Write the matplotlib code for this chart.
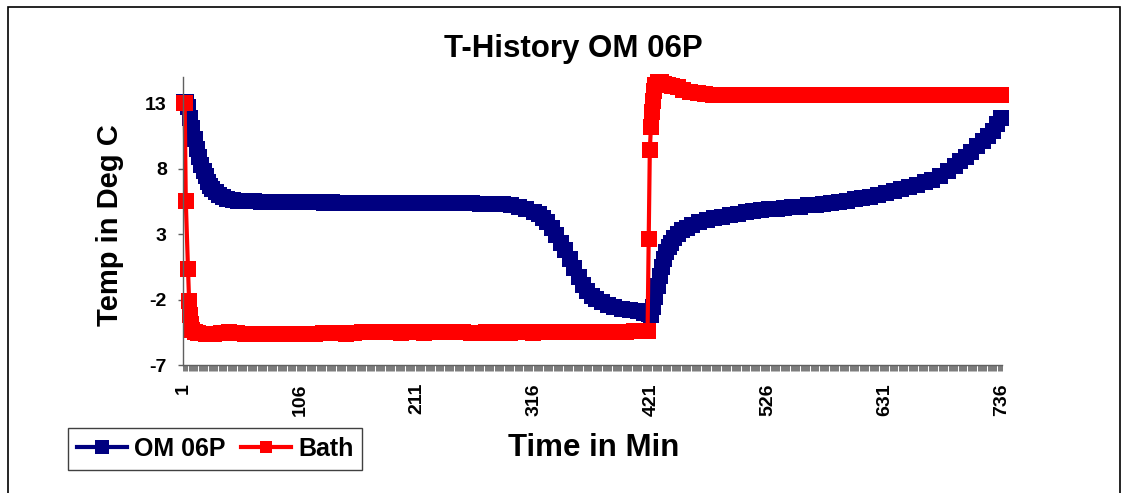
import matplotlib
matplotlib.use('Agg')
import matplotlib.pyplot as plt
import numpy as np
from matplotlib.patches import Rectangle

# OM 06P temperature (minute, deg C)
om_min = [1, 3, 5, 7, 9, 11, 13, 15, 17, 19,
          21, 23, 25, 27, 30, 33, 36, 40, 45, 50,
          57, 64, 71, 78, 85, 92, 99, 106, 113, 120,
          127, 134, 141, 148, 155, 162, 169, 176, 183, 190,
          197, 204, 211, 218, 225, 232, 239, 246, 253, 260,
          267, 274, 281, 288, 295, 302, 309, 316, 320, 324,
          328, 332, 336, 340, 344, 348, 352, 356, 360, 364,
          368, 372, 377, 382, 388, 395, 402, 409, 415, 419,
          421, 423, 425, 427, 429, 431, 433, 435, 437, 439,
          442, 445, 449, 453, 458, 464, 471, 478, 485, 492,
          499, 506, 513, 520, 527, 534, 541, 548, 555, 562,
          569, 576, 583, 590, 597, 604, 611, 618, 625, 632,
          639, 646, 653, 660, 667, 674, 681, 688, 694, 699,
          704, 709, 714, 719, 724, 728, 732, 736]
om_temp = [13.1, 13.1, 12.7, 11.9, 11.1, 10.3, 9.5, 8.9, 8.3, 7.8,
           7.4, 7.0, 6.7, 6.45, 6.2, 6.0, 5.85, 5.7, 5.6, 5.55,
           5.5, 5.5, 5.48, 5.47, 5.47, 5.45, 5.45, 5.43, 5.42, 5.42,
           5.4, 5.42, 5.4, 5.4, 5.4, 5.38, 5.38, 5.38, 5.37, 5.37,
           5.36, 5.36, 5.35, 5.35, 5.35, 5.35, 5.35, 5.35, 5.35, 5.34,
           5.33, 5.32, 5.3, 5.28, 5.25, 5.1, 4.95, 4.7, 4.5, 4.25,
           3.9, 3.45, 2.95, 2.35, 1.75, 1.1, 0.4, -0.25, -0.9, -1.35,
           -1.7, -1.95, -2.2, -2.4, -2.55, -2.7, -2.8, -2.9, -3.0, -3.1,
           -3.15, -2.6, -1.8, -1.0, -0.2, 0.5, 1.1, 1.6, 2.0, 2.3,
           2.7, 3.0, 3.3, 3.5, 3.7, 3.9, 4.05, 4.2, 4.3, 4.45,
           4.55, 4.65, 4.75, 4.85, 4.9, 4.95, 5.0, 5.05, 5.1, 5.2,
           5.25, 5.3, 5.4, 5.45, 5.55, 5.65, 5.75, 5.85, 6.0, 6.15,
           6.3, 6.45, 6.6, 6.75, 6.95, 7.15, 7.45, 7.8, 8.2, 8.55,
           8.9, 9.3, 9.7, 10.1, 10.5, 10.9, 11.4, 11.9]

# Bath temperature (minute, deg C)
bath_min = [1, 2, 3, 5, 6, 7, 8, 9, 11, 14,
            21, 28, 35, 42, 49, 56, 63, 70, 77, 84,
            91, 98, 105, 112, 119, 126, 133, 140, 147, 154,
            161, 168, 175, 182, 189, 196, 203, 210, 217, 224,
            231, 238, 245, 252, 259, 266, 273, 280, 287, 294,
            301, 308, 315, 322, 329, 336, 343, 350, 357, 364,
            371, 378, 385, 392, 399, 406, 413, 418, 419, 420,
            421, 422, 423, 424, 425, 427, 430, 433, 436, 440,
            445, 450, 456, 463, 470, 477, 484, 491, 498, 505,
            512, 519, 526, 533, 540, 547, 554, 561, 568, 575,
            582, 589, 596, 603, 610, 617, 624, 631, 638, 645,
            652, 659, 666, 673, 680, 687, 694, 701, 708, 715,
            722, 729, 736]
bath_temp = [13.0, 13.0, 5.5, 0.3, -2.1, -3.2, -3.9, -4.3, -4.5, -4.55,
             -4.6, -4.6, -4.55, -4.5, -4.55, -4.6, -4.6, -4.6, -4.6, -4.6,
             -4.6, -4.6, -4.6, -4.6, -4.6, -4.55, -4.55, -4.55, -4.6, -4.55,
             -4.5, -4.5, -4.5, -4.5, -4.5, -4.55, -4.5, -4.5, -4.55, -4.5,
             -4.5, -4.5, -4.5, -4.5, -4.55, -4.55, -4.5, -4.55, -4.5, -4.55,
             -4.5, -4.5, -4.55, -4.5, -4.5, -4.5, -4.5, -4.45, -4.5, -4.5,
             -4.45, -4.45, -4.45, -4.45, -4.45, -4.4, -4.4, -4.4, 2.6, 9.4,
             11.2, 12.3, 13.2, 13.9, 14.4, 14.6, 14.6, 14.5, 14.4, 14.3,
             14.2, 14.0, 13.85, 13.75, 13.7, 13.65, 13.6, 13.6, 13.6, 13.6,
             13.6, 13.6, 13.6, 13.6, 13.6, 13.6, 13.6, 13.6, 13.6, 13.6,
             13.6, 13.6, 13.6, 13.6, 13.6, 13.6, 13.6, 13.6, 13.6, 13.6,
             13.6, 13.6, 13.6, 13.6, 13.6, 13.6, 13.6, 13.6, 13.6, 13.6,
             13.6, 13.6, 13.6]

x_ticks = [1, 106, 211, 316, 421, 526, 631, 736]
y_ticks = [-7, -2, 3, 8, 13]

plt.rcParams['font.family'] = ['Liberation Sans', 'DejaVu Sans']
plt.rcParams['font.weight'] = 'bold'

W, H = 1128, 493
fig = plt.figure(figsize=(W / 100, H / 100), dpi=100)
ax = fig.add_axes([183 / W, 1 - 365 / H, 819 / W, 288 / H])

ax.plot(om_min, om_temp, color='#000080', lw=3, marker='s', ms=12, mew=0,
        label='OM 06P', clip_on=False)
ax.plot(bath_min, bath_temp, color='#FF0000', lw=3, marker='s', ms=11, mew=0,
        label='Bath', clip_on=False)

ax.set_xlim(0.5, 736.5)
ax.set_ylim(-7, 15)
ax.set_yticks(y_ticks)
ax.set_xticks(x_ticks)
ax.set_xticks(np.arange(0.5, 737, 1), minor=True)
ax.set_xticklabels([str(t) for t in x_ticks], rotation=90, fontsize=14, fontweight='bold')
ax.set_yticklabels([str(t) for t in y_ticks], fontsize=14, fontweight='bold')
ax.tick_params(axis='x', which='major', length=0, pad=13)
ax.tick_params(axis='x', which='minor', length=4.3, width=0.45, color='#303030')
ax.tick_params(axis='y', length=3.6, width=1, color='#606060', pad=8)

for s in ['top', 'right']:
    ax.spines[s].set_visible(False)
for s in ['left', 'bottom']:
    ax.spines[s].set_color('#606060')
    ax.spines[s].set_linewidth(1)

fig.text(573 / W, 1 - 57 / H, 'T-History OM 06P', ha='center', va='baseline',
         fontsize=22.5, fontweight='bold')
fig.text(594 / W, 1 - 456 / H, 'Time in Min', ha='center', va='baseline',
         fontsize=22.5, fontweight='bold')
fig.text(110 / W, 1 - 225 / H, 'Temp in Deg C', ha='center', va='center',
         rotation=90, fontsize=21, fontweight='bold')

leg = fig.legend(loc='upper left', bbox_to_anchor=(68 / W, 1 - 428 / H), ncol=2,
                 frameon=True, fancybox=False, edgecolor='#404040', framealpha=1,
                 prop={'weight': 'bold', 'size': 18}, handlelength=2.0,
                 handletextpad=0.3, columnspacing=0.6, borderpad=0.35,
                 borderaxespad=0, markerscale=0.85)
leg.get_frame().set_linewidth(1.0)

fig.add_artist(Rectangle((8 / W, -0.05), 1112 / W, 1 - 7 / H + 0.05,
                         transform=fig.transFigure, fill=False,
                         edgecolor='black', lw=1.2))

plt.savefig('out.png', dpi=100)
